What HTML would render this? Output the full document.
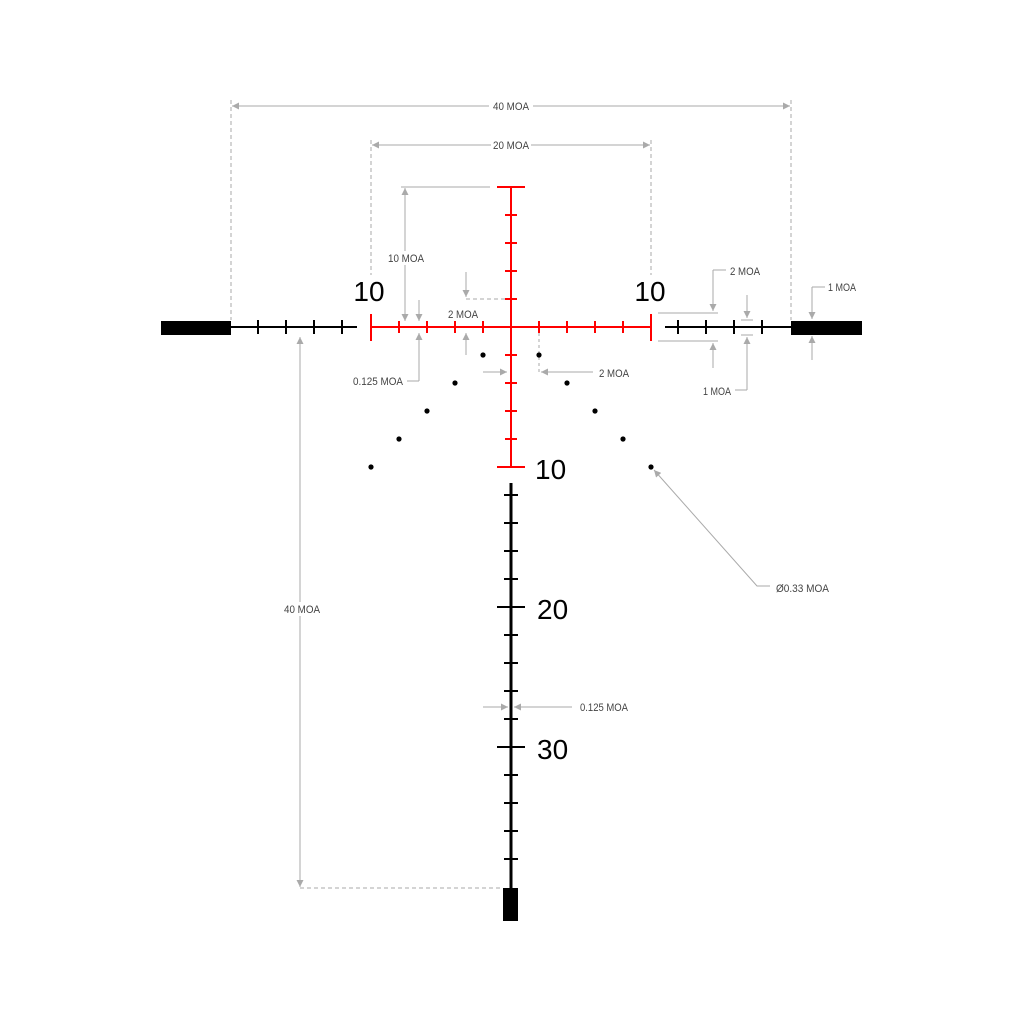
<!DOCTYPE html>
<html><head><style>html,body{margin:0;padding:0;background:#fff}svg{display:block}</style></head><body>
<svg width="1024" height="1024" viewBox="0 0 1024 1024" xmlns="http://www.w3.org/2000/svg">
<defs>
<marker id="a" viewBox="0 0 10 10" refX="10" refY="5" markerWidth="10" markerHeight="7" markerUnits="userSpaceOnUse" orient="auto-start-reverse"><path d="M0,0L10,5L0,10z" fill="#aaa"/></marker>
</defs>
<g stroke="#aaa" stroke-width="1" fill="none">
<!-- 40 MOA top -->
<line x1="232" y1="106" x2="790" y2="106" marker-start="url(#a)" marker-end="url(#a)"/>
<line x1="231" y1="100" x2="231" y2="320" stroke-dasharray="4,3"/>
<line x1="791" y1="100" x2="791" y2="320" stroke-dasharray="4,3"/>
<!-- 20 MOA -->
<line x1="372" y1="145" x2="650" y2="145" marker-start="url(#a)" marker-end="url(#a)"/>
<line x1="371" y1="140" x2="371" y2="275" stroke-dasharray="4,3"/>
<line x1="651" y1="140" x2="651" y2="275" stroke-dasharray="4,3"/>
<!-- 10 MOA -->
<line x1="401" y1="187" x2="490" y2="187"/>
<line x1="405" y1="188" x2="405" y2="321" marker-start="url(#a)" marker-end="url(#a)"/>
<!-- 2 MOA red vertical -->
<line x1="466" y1="272" x2="466" y2="297" marker-end="url(#a)"/>
<line x1="466" y1="299" x2="505" y2="299" stroke-dasharray="4,3"/>
<line x1="466" y1="355" x2="466" y2="333" marker-end="url(#a)"/>
<!-- 0.125 MOA -->
<line x1="419" y1="300" x2="419" y2="321" marker-end="url(#a)"/>
<line x1="419" y1="381" x2="419" y2="333" marker-end="url(#a)"/>
<line x1="419" y1="381" x2="407" y2="381"/>
<!-- 2 MOA horizontal -->
<line x1="539" y1="333" x2="539" y2="373" stroke-dasharray="3,3"/>
<line x1="483" y1="372" x2="507" y2="372" marker-end="url(#a)"/>
<line x1="593" y1="372" x2="541" y2="372" marker-end="url(#a)"/>
<!-- right 2 MOA -->
<line x1="658" y1="313" x2="718" y2="313"/>
<line x1="658" y1="341" x2="718" y2="341"/>
<line x1="713" y1="270" x2="713" y2="311" marker-end="url(#a)"/>
<line x1="713" y1="270" x2="726" y2="270"/>
<line x1="713" y1="368" x2="713" y2="343" marker-end="url(#a)"/>
<!-- 1 MOA small -->
<line x1="741" y1="320" x2="753" y2="320"/>
<line x1="741" y1="335" x2="753" y2="335"/>
<line x1="747" y1="295" x2="747" y2="318" marker-end="url(#a)"/>
<line x1="747" y1="390" x2="747" y2="337" marker-end="url(#a)"/>
<line x1="747" y1="390" x2="735" y2="390"/>
<!-- far right 1 MOA -->
<line x1="812" y1="287" x2="812" y2="319" marker-end="url(#a)"/>
<line x1="812" y1="287" x2="825" y2="287"/>
<line x1="812" y1="360" x2="812" y2="336" marker-end="url(#a)"/>
<!-- left 40 MOA -->
<line x1="300" y1="337" x2="300" y2="887" marker-start="url(#a)" marker-end="url(#a)"/>
<line x1="300" y1="888" x2="503" y2="888" stroke-dasharray="4,3"/>
<!-- 0.125 bottom -->
<line x1="483" y1="707" x2="508" y2="707" marker-end="url(#a)"/>
<line x1="572" y1="707" x2="514" y2="707" marker-end="url(#a)"/>
<!-- dot diam -->
<polyline points="770,586 757,586 654,470" marker-end="url(#a)"/>
</g>
<!-- label backgrounds -->
<g fill="#fff">
<rect x="489" y="99" width="44" height="14"/>
<rect x="491" y="138" width="40" height="14"/>
<rect x="386" y="251" width="40" height="14"/>
<rect x="282" y="602" width="40" height="14"/>
</g>
<g font-family="'Liberation Sans',sans-serif" font-size="11" fill="#444" transform="">
<text x="511" y="110" text-anchor="middle" textLength="36" lengthAdjust="spacingAndGlyphs">40 MOA</text>
<text x="511" y="149" text-anchor="middle" textLength="36" lengthAdjust="spacingAndGlyphs">20 MOA</text>
<text x="406" y="262" text-anchor="middle" textLength="36" lengthAdjust="spacingAndGlyphs">10 MOA</text>
<text x="463" y="318" text-anchor="middle" textLength="30" lengthAdjust="spacingAndGlyphs">2 MOA</text>
<text x="403" y="385" text-anchor="end" textLength="50" lengthAdjust="spacingAndGlyphs">0.125 MOA</text>
<text x="599" y="377" textLength="30" lengthAdjust="spacingAndGlyphs">2 MOA</text>
<text x="730" y="275" textLength="30" lengthAdjust="spacingAndGlyphs">2 MOA</text>
<text x="731" y="395" text-anchor="end" textLength="28" lengthAdjust="spacingAndGlyphs">1 MOA</text>
<text x="828" y="291" textLength="28" lengthAdjust="spacingAndGlyphs">1 MOA</text>
<text x="302" y="613" text-anchor="middle" textLength="36" lengthAdjust="spacingAndGlyphs">40 MOA</text>
<text x="580" y="711" textLength="48" lengthAdjust="spacingAndGlyphs">0.125 MOA</text>
<text x="776" y="592" textLength="53" lengthAdjust="spacingAndGlyphs">Ø0.33 MOA</text>
</g>
<!-- black reticle -->
<g stroke="#000" stroke-width="2">
<line x1="230" y1="327" x2="357" y2="327"/>
<line x1="665" y1="327" x2="791" y2="327"/>
<line x1="258" y1="320" x2="258" y2="334"/><line x1="286" y1="320" x2="286" y2="334"/><line x1="314" y1="320" x2="314" y2="334"/><line x1="342" y1="320" x2="342" y2="334"/>
<line x1="678" y1="320" x2="678" y2="334"/><line x1="706" y1="320" x2="706" y2="334"/><line x1="734" y1="320" x2="734" y2="334"/><line x1="762" y1="320" x2="762" y2="334"/>
</g>
<rect x="161" y="321" width="70" height="14" fill="#000"/>
<rect x="791" y="321" width="71" height="14" fill="#000"/>
<g stroke="#000" stroke-width="3">
<line x1="511" y1="483" x2="511" y2="890"/>
</g>
<g stroke="#000" stroke-width="2">
<line x1="504" y1="495" x2="518" y2="495"/><line x1="504" y1="523" x2="518" y2="523"/><line x1="504" y1="551" x2="518" y2="551"/><line x1="504" y1="579" x2="518" y2="579"/>
<line x1="497" y1="607" x2="525" y2="607"/>
<line x1="504" y1="635" x2="518" y2="635"/><line x1="504" y1="663" x2="518" y2="663"/><line x1="504" y1="691" x2="518" y2="691"/><line x1="504" y1="719" x2="518" y2="719"/>
<line x1="497" y1="747" x2="525" y2="747"/>
<line x1="504" y1="775" x2="518" y2="775"/><line x1="504" y1="803" x2="518" y2="803"/><line x1="504" y1="831" x2="518" y2="831"/><line x1="504" y1="859" x2="518" y2="859"/>
</g>
<rect x="503" y="888" width="15" height="33" fill="#000"/>
<!-- red reticle -->
<g stroke="#f00" stroke-width="2">
<line x1="371" y1="327" x2="651" y2="327"/>
<line x1="511" y1="187" x2="511" y2="467"/>
<line x1="371" y1="314" x2="371" y2="341"/><line x1="651" y1="314" x2="651" y2="341"/>
<line x1="497" y1="187" x2="525" y2="187"/><line x1="497" y1="467" x2="525" y2="467"/>
<line x1="399" y1="321" x2="399" y2="333"/><line x1="427" y1="321" x2="427" y2="333"/><line x1="455" y1="321" x2="455" y2="333"/><line x1="483" y1="321" x2="483" y2="333"/>
<line x1="539" y1="321" x2="539" y2="333"/><line x1="567" y1="321" x2="567" y2="333"/><line x1="595" y1="321" x2="595" y2="333"/><line x1="623" y1="321" x2="623" y2="333"/>
<line x1="505" y1="215" x2="517" y2="215"/><line x1="505" y1="243" x2="517" y2="243"/><line x1="505" y1="271" x2="517" y2="271"/><line x1="505" y1="299" x2="517" y2="299"/>
<line x1="505" y1="355" x2="517" y2="355"/><line x1="505" y1="383" x2="517" y2="383"/><line x1="505" y1="411" x2="517" y2="411"/><line x1="505" y1="439" x2="517" y2="439"/>
</g>
<!-- dots -->
<g fill="#000">
<circle cx="483" cy="355" r="2.6"/><circle cx="455" cy="383" r="2.6"/><circle cx="427" cy="411" r="2.6"/><circle cx="399" cy="439" r="2.6"/><circle cx="371" cy="467" r="2.6"/>
<circle cx="539" cy="355" r="2.6"/><circle cx="567" cy="383" r="2.6"/><circle cx="595" cy="411" r="2.6"/><circle cx="623" cy="439" r="2.6"/><circle cx="651" cy="467" r="2.6"/>
</g>
<g font-family="'Liberation Sans',sans-serif" font-size="28" fill="#000">
<text x="369" y="301" text-anchor="middle">10</text>
<text x="650" y="301" text-anchor="middle">10</text>
<text x="535" y="479">10</text>
<text x="537" y="619">20</text>
<text x="537" y="759">30</text>
</g>
</svg>
</body></html>
